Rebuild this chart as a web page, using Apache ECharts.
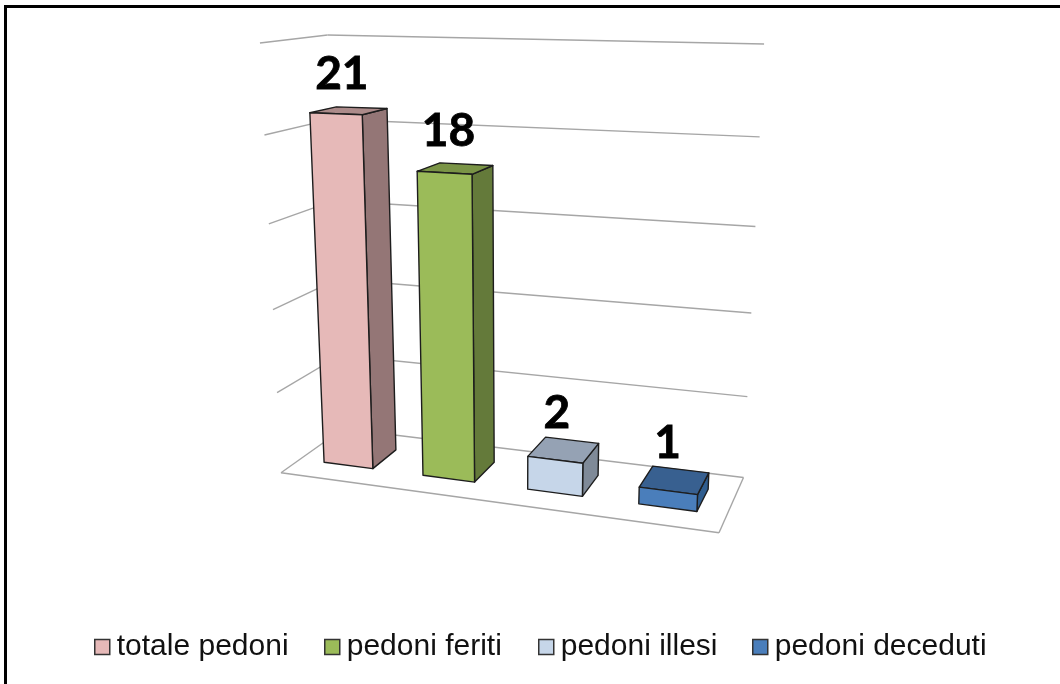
<!DOCTYPE html>
<html><head><meta charset="utf-8">
<style>html,body{margin:0;padding:0;background:#fff;overflow:hidden}#c{position:absolute;left:0;top:0;width:1060px;height:684px}
#f{position:absolute;left:4px;top:5px;right:0;bottom:0;border-left:3px solid #000;border-top:3px solid #000;pointer-events:none}</style>
<script src="https://cdn.jsdelivr.net/npm/echarts@6/dist/echarts.min.js"></script></head>
<body><div id="c"></div>
<script>
const categories = ['totale pedoni','pedoni feriti','pedoni illesi','pedoni deceduti'];
const values = [21,18,2,1];
const gridTicks = [0,5,10,15,20,25];
const frontColors = ['#E6B9B8','#9BBB59','#C6D6E9','#4A7EBB'];
const sideColors  = ['#947676','#647A3A','#7F8A98','#2F5D8F'];
const topColors   = ['#AC8B8A','#7A9446','#95A2B4','#386090'];
const legendLeft  = [94,324,538,752];

// view of the 3D box: screen position of the floor corners, box height at each corner
const floorC = {fl:[281,472.7], fr:[719,532.7], br:[743.5,477.5], bl:[343,428.7]};
const heightC = {fl:429.7, fr:474.7, br:433.5, bl:393.7};
const vanishX = 515, spread = 0.09, zPersp = 1.09, barFrac = 0.5, dFront = 0.29, dBack = 0.70;

function homography(c){ // unit square (u,d) -> quad
  const [x0,y0]=c.fl,[x1,y1]=c.fr,[x2,y2]=c.br,[x3,y3]=c.bl;
  const dx1=x1-x2,dx2=x3-x2,sx=x0-x1+x2-x3,dy1=y1-y2,dy2=y3-y2,sy=y0-y1+y2-y3;
  const den=dx1*dy2-dx2*dy1,g=(sx*dy2-dx2*sy)/den,h=(dx1*sy-sx*dy1)/den;
  const a=x1-x0+g*x1,b=x3-x0+h*x3,d=y1-y0+g*y1,e=y3-y0+h*y3;
  return (u,v)=>{const w=g*u+h*v+1;return [(a*u+b*v+x0)/w,(d*u+e*v+y0)/w];};
}
const Hf=homography(floorC);
function proj(u,d,z){ // u,d,z in 0..1
  const t=z/(z+zPersp*(1-z));
  const p=Hf(u,d);
  const H=(heightC.fl*(1-u)+heightC.fr*u)*(1-d)+(heightC.bl*(1-u)+heightC.br*u)*d;
  return [p[0]+(p[0]-vanishX)*spread*t,p[1]-H*t];
}
function norm(api,params,cat,val){
  const cs=params.coordSys,p=api.coord([cat,val]);
  return {u:(p[0]-cs.x)/cs.width,z:(cs.y+cs.height-p[1])/cs.height,bw:api.size([1,0])[0]/cs.width};
}
const edge={stroke:'#1d1d1d',lineWidth:1.4,lineJoin:'round'};
function barItem(i){
  return function(params,api){
    const n=norm(api,params,api.value(0),api.value(1));
    const hw=n.bw*barFrac/2,l=n.u-hw,r=n.u+hw,z=n.z;
    const front=[proj(l,dFront,0),proj(r,dFront,0),proj(r,dFront,z),proj(l,dFront,z)];
    const side=[proj(r,dFront,0),proj(r,dBack,0),proj(r,dBack,z),proj(r,dFront,z)];
    const top=[proj(l,dFront,z),proj(r,dFront,z),proj(r,dBack,z),proj(l,dBack,z)];
    const c=[(top[0][0]+top[1][0]+top[2][0]+top[3][0])/4,(top[0][1]+top[1][1]+top[2][1]+top[3][1])/4];
    const poly=(pts,fill)=>({type:'polygon',shape:{points:pts},style:Object.assign({fill},edge)});
    return {type:'group',children:[
      poly(side,sideColors[i]),poly(top,topColors[i]),poly(front,frontColors[i]),
      {type:'text',x:c[0]-7,y:c[1]-14,style:{text:String(api.value(1)),fill:'#000',stroke:'#000',lineWidth:0.8,
        font:'bold 46px Lato',align:'center',verticalAlign:'bottom'}}
    ]};
  };
}
function wallItem(params,api){
  const n=norm(api,params,0,api.value(0));
  const z=n.z,line=(a,b)=>({type:'line',shape:{x1:a[0],y1:a[1],x2:b[0],y2:b[1]},
    style:{stroke:'#a6a6a6',lineWidth:1.4}});
  const ch=[line(proj(0,0,z),proj(0,1,z)),line(proj(0,1,z),proj(1,1,z))];
  if(api.value(0)===gridTicks[0]){ch.push(line(proj(0,0,0),proj(1,0,0)),line(proj(1,0,0),proj(1,1,0)));}
  return {type:'group',children:ch};
}
const series=[{type:'custom',name:'griglia',silent:true,z:1,renderItem:wallItem,data:gridTicks.map(v=>[v]),encode:{y:0}}];
categories.forEach((name,i)=>{
  series.push({type:'custom',name,z:2+i,renderItem:barItem(i),
    itemStyle:{color:frontColors[i]},
    data:[[i,values[i]]],encode:{x:0,y:1},clip:false});
});
const chart=echarts.init(document.getElementById('c'),null,{renderer:'canvas'});
chart.setOption({
  animation:false,backgroundColor:'#fff',
  grid:{left:281,right:341,top:43,bottom:212},
  xAxis:{type:'category',data:[0,1,2,3],show:false},
  yAxis:{type:'value',min:0,max:25,interval:5,show:false},
  legend:categories.map((name,i)=>({data:[name],left:legendLeft[i],top:632,padding:0,itemWidth:15,itemHeight:15,icon:'rect',
    selectedMode:false,
    itemStyle:{borderColor:'#333',borderWidth:1.5},
    textStyle:{fontFamily:'Liberation Sans',fontSize:30,color:'#111',padding:[0,0,0,2]}})),
  series
});
</script>
<div id="f"></div>
</body></html>
